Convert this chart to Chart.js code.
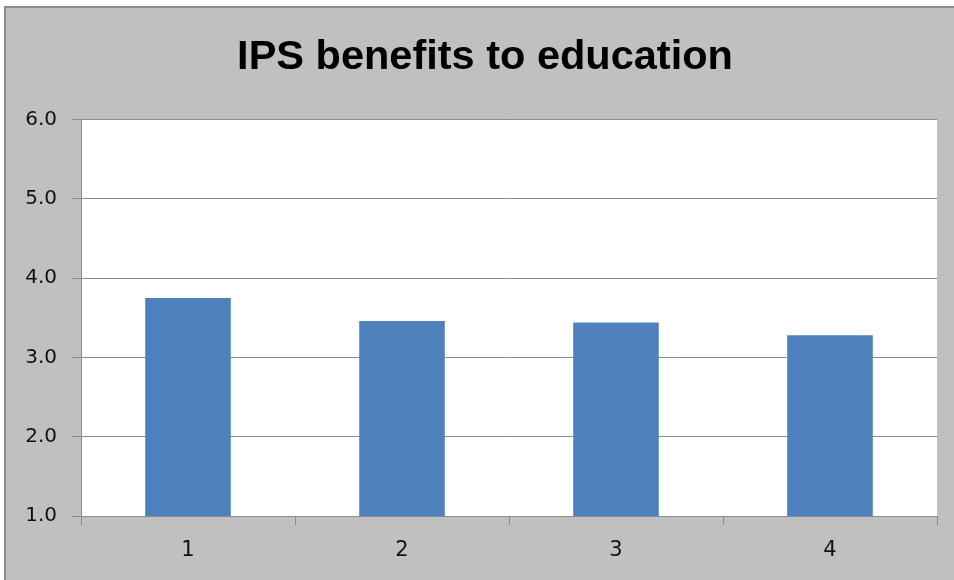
<!DOCTYPE html>
<html>
<head>
<meta charset="utf-8">
<script src="https://cdn.jsdelivr.net/npm/chart.js@4"></script>
<style>
html,body{margin:0;padding:0;background:#fff;overflow:hidden;}
#wrap{width:954px;height:580px;position:relative;overflow:hidden;}
</style>
</head>
<body>
<div id="wrap"><canvas id="c" width="970" height="580"></canvas></div>
<script>
const categories = ["1", "2", "3", "4"];
const seriesValues = [3.75, 3.46, 3.44, 3.28];
const yTicks = [1.0, 2.0, 3.0, 4.0, 5.0, 6.0];
const chartTitle = "IPS benefits to education";

const bgPlugin = {
  id: 'bg',
  beforeDraw(chart) {
    const ctx = chart.ctx;
    ctx.save();
    ctx.fillStyle = '#fff';
    ctx.fillRect(0, 0, chart.width, chart.height);
    ctx.fillStyle = '#C0C0C0';
    ctx.fillRect(5, 7, chart.width, chart.height);
    ctx.strokeStyle = '#8c8c8c';
    ctx.lineWidth = 2;
    ctx.strokeRect(5, 7, chart.width + 10, chart.height + 10);
    const a = chart.chartArea;
    ctx.fillStyle = '#fff';
    ctx.fillRect(a.left, a.top, a.right - a.left, a.bottom - a.top);
    ctx.restore();
  }
};

new Chart(document.getElementById('c'), {
  type: 'bar',
  data: {
    labels: categories,
    datasets: [{
      data: seriesValues,
      backgroundColor: '#4F81BD',
      borderWidth: 0,
      barPercentage: 0.4,
      categoryPercentage: 1.0,
      yAxisID: 'y'
    }]
  },
  options: {
    responsive: false,
    animation: false,
    devicePixelRatio: 1,
    layout: { padding: { left: 0, right: 0, top: 0, bottom: 0 } },
    plugins: {
      legend: { display: false },
      tooltip: { enabled: false },
      title: {
        display: true,
        text: chartTitle,
        color: '#000',
        font: { family: "'Liberation Sans', sans-serif", size: 41.5, weight: 'bold', lineHeight: 1.2 },
        padding: { top: 33, bottom: 36.7 }
      }
    },
    scales: {
      x: {
        grid: { drawOnChartArea: false, drawTicks: true, tickLength: 9, offset: true, color: '#8c8c8c' },
        border: { color: '#8c8c8c', width: 1 },
        ticks: { color: '#111', font: { family: "'DejaVu Sans', sans-serif", size: 21 }, padding: 13 },
        afterFit(s) { s.height = 64; }
      },
      y: {
        position: 'left',
        min: 1, max: 6,
        afterBuildTicks(s) { s.ticks = yTicks.map(v => ({ value: v })); },
        grid: { color: '#8c8c8c', tickLength: 9, drawTicks: true },
        border: { color: '#8c8c8c', width: 1 },
        ticks: { color: '#111', font: { family: "'DejaVu Sans', sans-serif", size: 20 }, padding: 15,
          callback: v => Number(v).toFixed(1) },
        afterFit(s) { s.width = 81; }
      },
      yRight: {
        position: 'right',
        display: true,
        grid: { display: false, drawTicks: false },
        border: { display: false },
        ticks: { display: false },
        afterFit(s) { s.width = 33; }
      }
    }
  },
  plugins: [bgPlugin]
});
</script>
</body>
</html>
